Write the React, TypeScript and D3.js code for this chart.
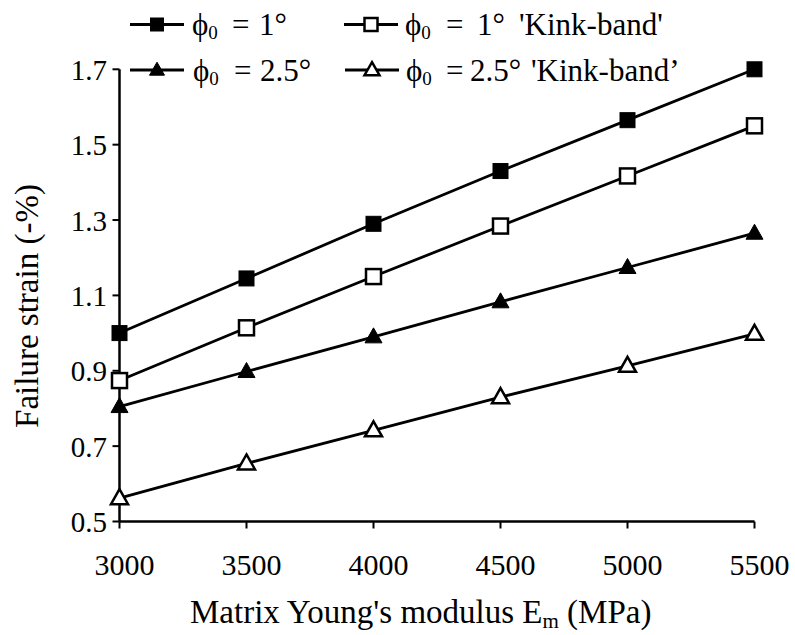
import React from "react";
import * as d3 from "d3";

const modulus = [3000, 3500, 4000, 4500, 5000, 5500];
const phi1 = [1.0, 1.145, 1.29, 1.43, 1.565, 1.7];
const phi1Kink = [0.874, 1.014, 1.15, 1.284, 1.417, 1.55];
const phi25 = [0.805, 0.898, 0.99, 1.083, 1.174, 1.265];
const phi25Kink = [0.562, 0.654, 0.742, 0.83, 0.913, 0.998];
const xTicks = [3000, 3500, 4000, 4500, 5000, 5500];
const yTicks = [0.5, 0.7, 0.9, 1.1, 1.3, 1.5, 1.7];

type Marker = "square" | "triangle";
const series: { values: number[]; marker: Marker; filled: boolean; angle: string; kink: string }[] = [
  { values: phi1, marker: "square", filled: true, angle: "1°", kink: "" },
  { values: phi1Kink, marker: "square", filled: false, angle: "1°", kink: "'Kink-band'" },
  { values: phi25, marker: "triangle", filled: true, angle: "2.5°", kink: "" },
  { values: phi25Kink, marker: "triangle", filled: false, angle: "2.5°", kink: "'Kink-band’" },
];

const FONT = "Liberation Serif, DejaVu Serif, serif";

function MarkerShape({ x, y, marker, filled, size }: { x: number; y: number; marker: Marker; filled: boolean; size: number }) {
  if (marker === "square") {
    return (
      <rect
        x={x - size / 2}
        y={y - size / 2}
        width={size}
        height={size}
        fill={filled ? "#000" : "#fff"}
        stroke="#000"
        strokeWidth={filled ? 1 : 2.5}
      />
    );
  }
  const w = size + 2;
  const h = size;
  const p = `M${x},${y - h * 0.6} L${x + w / 2},${y + h * 0.4} L${x - w / 2},${y + h * 0.4} Z`;
  return <path d={p} fill={filled ? "#000" : "#fff"} stroke="#000" strokeWidth={filled ? 1 : 2.5} strokeLinejoin="miter" />;
}

export default function App() {
  const x = d3.scaleLinear().domain([3000, 5500]).range([119.5, 754.5]);
  const y = d3.scaleLinear().domain([0.5, 1.7]).range([521.5, 69.3]);
  const line = d3
    .line<number>()
    .x((_, i) => x(modulus[i]))
    .y((d) => y(d));

  const legendPos = [
    { lx: 130, ly: 24.5, tx: 192, ty: 35, eq: 232, val: 259, kink: 0 },
    { lx: 344, ly: 24.5, tx: 405, ty: 35, eq: 446, val: 477, kink: 519 },
    { lx: 130, ly: 70, tx: 193, ty: 81, eq: 234, val: 260, kink: 0 },
    { lx: 345, ly: 70, tx: 406, ty: 81, eq: 446, val: 470, kink: 531 },
  ];

  const ts = { fontFamily: FONT };
  const LF = 31;

  return (
    <svg
      width={795}
      height={635}
      style={{ position: "absolute", left: 0, top: 0, background: "#fff", fontFamily: FONT }}
    >
      <rect width={795} height={635} fill="#fff" />
      {/* axes */}
      <line x1={x(3000)} x2={x(5500)} y1={y(0.5)} y2={y(0.5)} stroke="#000" strokeWidth={2.5} />
      <line x1={x(3000)} x2={x(3000)} y1={y(0.5)} y2={y(1.7)} stroke="#000" strokeWidth={2.5} />
      {xTicks.map((t) => (
        <g key={"xt" + t}>
          <line x1={x(t)} x2={x(t)} y1={y(0.5)} y2={y(0.5) + 7} stroke="#000" strokeWidth={2} />
          <text x={x(t) + 5} y={575} textAnchor="middle" fontSize={30} fill="#000" style={ts}>
            {t}
          </text>
        </g>
      ))}
      {yTicks.map((t) => (
        <g key={"yt" + t}>
          <line x1={x(3000) - 7} x2={x(3000)} y1={y(t)} y2={y(t)} stroke="#000" strokeWidth={2} />
          <text x={107} y={y(t) + 10.5} textAnchor="end" fontSize={29} fill="#000" style={ts}>
            {t.toFixed(1)}
          </text>
        </g>
      ))}
      {/* axis titles */}
      <text x={190} y={623} fontSize={33} fill="#000" style={ts}>
        Matrix Young's modulus E
        <tspan fontSize={21} dy={5}>m</tspan>
        <tspan dy={-5}> (MPa)</tspan>
      </text>
      <text transform="translate(38,306) rotate(-90)" textAnchor="middle" fontSize={33} fill="#000" style={ts}>
        Failure strain (-%)
      </text>
      {/* series */}
      {series.map((s, si) => (
        <g key={"s" + si}>
          <path d={line(s.values) || ""} fill="none" stroke="#000" strokeWidth={2.8} />
          {s.values.map((v, i) => (
            <MarkerShape key={i} x={x(modulus[i])} y={y(v)} marker={s.marker} filled={s.filled} size={15} />
          ))}
        </g>
      ))}
      {/* legend */}
      {series.map((s, si) => {
        const p = legendPos[si];
        return (
          <g key={"lg" + si} fontSize={LF} fill="#000" style={ts}>
            <line x1={p.lx} x2={p.lx + 54} y1={p.ly} y2={p.ly} stroke="#000" strokeWidth={2.8} />
            <MarkerShape x={p.lx + 27} y={p.ly} marker={s.marker} filled={s.filled} size={13} />
            <text x={p.tx} y={p.ty}>
              ϕ<tspan fontSize={19} dy={4}>0</tspan>
            </text>
            <text x={p.eq} y={p.ty}>=</text>
            <text x={p.val} y={p.ty}>{s.angle}</text>
            {s.kink ? (
              <text x={p.kink} y={p.ty}>
                {s.kink}
              </text>
            ) : null}
          </g>
        );
      })}
    </svg>
  );
}
